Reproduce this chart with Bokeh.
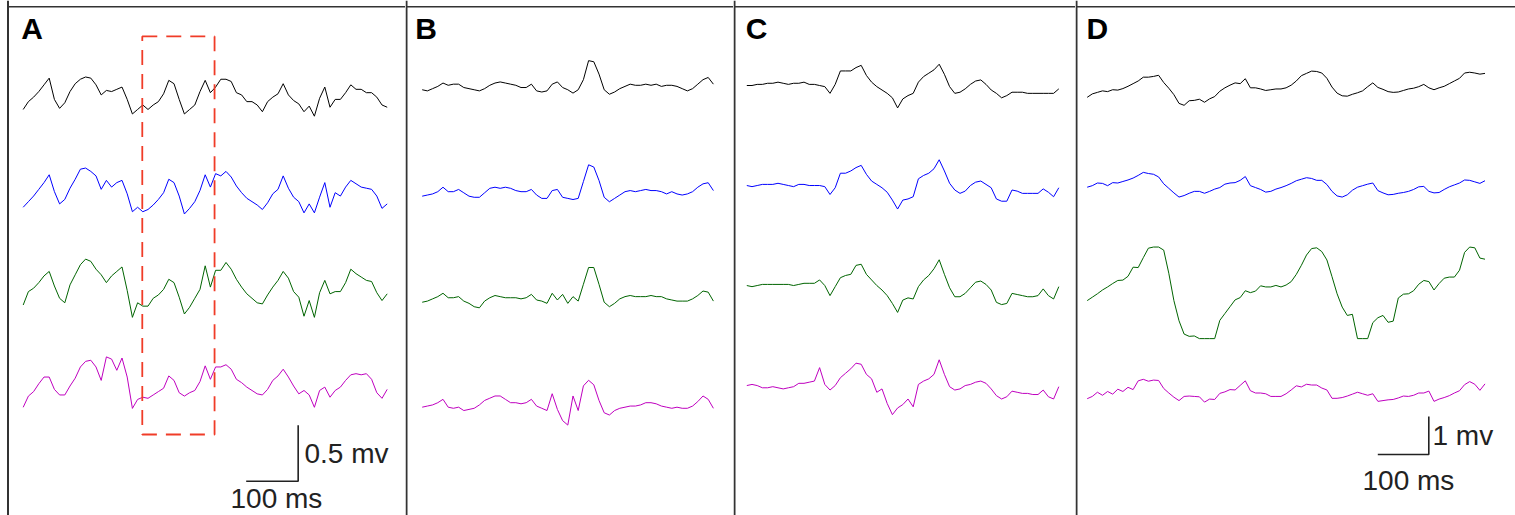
import numpy as np
from bokeh.plotting import figure
from bokeh.layouts import row
from bokeh.models import Range1d, Span
from bokeh.core.properties import value
from bokeh.embed import file_html
from bokeh.resources import INLINE

# ---------------- data (mV, one sample every 10 ms) ----------------
DT_MS = 10
CHANNEL_COLORS = ["#000000", "#0000ff", "#006400", "#bf00bf"]
PANEL_LABELS = ["A", "B", "C", "D"]

A_BLACK = [-0.08, -0.01, 0.03, 0.08, 0.14, 0.20, 0.01, -0.07, -0.02, 0.08,
           0.15, 0.19, 0.21, 0.20, 0.14, 0.05, 0.09, 0.08, 0.10, 0.12,
           0.01, -0.12, -0.08, -0.04, -0.08, -0.04, -0.01, 0.06, 0.18, 0.15,
           0.01, -0.12, -0.08, -0.04, 0.08, 0.18, 0.07, 0.12, 0.19, 0.19,
           0.17, 0.07, 0.05, -0.01, -0.01, -0.04, -0.10, -0.01, 0.03, 0.06,
           0.15, 0.05, 0.00, -0.03, -0.10, -0.05, -0.14, 0.02, 0.12, -0.06,
           0.01, 0.01, 0.07, 0.14, 0.10, 0.10, 0.07, 0.07, 0.03, -0.04,
           -0.06]
A_BLUE = [-0.06, -0.01, 0.04, 0.10, 0.16, 0.23, 0.08, -0.03, 0.01, 0.11,
          0.19, 0.28, 0.29, 0.26, 0.22, 0.10, 0.18, 0.12, 0.16, 0.18,
          0.06, -0.10, -0.06, -0.10, -0.08, -0.04, 0.01, 0.07, 0.19, 0.16,
          0.04, -0.12, -0.07, -0.01, 0.09, 0.23, 0.12, 0.24, 0.22, 0.26,
          0.21, 0.13, 0.07, 0.02, -0.01, -0.04, -0.08, -0.02, 0.06, 0.10,
          0.22, 0.11, 0.03, -0.01, -0.11, -0.03, -0.11, 0.03, 0.16, -0.06,
          0.07, 0.04, 0.12, 0.18, 0.15, 0.12, 0.11, 0.10, 0.04, -0.07,
          -0.03]
A_GREEN = [-0.10, 0.02, 0.05, 0.10, 0.16, 0.20, 0.07, -0.04, -0.08, 0.08,
           0.17, 0.26, 0.31, 0.29, 0.22, 0.17, 0.10, 0.16, 0.20, 0.24,
           0.03, -0.21, -0.08, -0.11, -0.11, -0.04, -0.01, 0.04, 0.13, 0.10,
           -0.03, -0.18, -0.12, -0.04, 0.04, 0.25, 0.06, 0.21, 0.21, 0.28,
           0.22, 0.13, 0.06, 0.00, -0.04, -0.08, -0.09, -0.01, 0.06, 0.12,
           0.20, 0.14, 0.02, -0.03, -0.20, -0.06, -0.21, 0.01, 0.12, 0.00,
           0.02, 0.02, 0.10, 0.22, 0.18, 0.15, 0.12, 0.11, 0.01, -0.06,
           0.00]
A_MAGENTA = [-0.15, -0.05, -0.01, 0.06, 0.12, 0.12, 0.01, -0.04, -0.04, 0.04,
             0.11, 0.21, 0.26, 0.27, 0.21, 0.09, 0.30, 0.28, 0.18, 0.29,
             0.12, -0.16, -0.08, -0.06, -0.07, -0.04, -0.01, 0.02, 0.13, 0.09,
             -0.02, -0.05, -0.02, 0.00, 0.08, 0.22, 0.10, 0.21, 0.21, 0.23,
             0.19, 0.10, 0.07, 0.03, 0.00, -0.03, -0.04, 0.01, 0.09, 0.13,
             0.19, 0.12, 0.04, -0.03, 0.00, -0.04, -0.15, 0.00, 0.03, -0.06,
             0.00, 0.03, 0.09, 0.14, 0.15, 0.14, 0.15, 0.10, -0.02, -0.07,
             0.01]

B_BLACK = [0.00, -0.01, 0.01, 0.03, 0.06, 0.04, 0.05, 0.05, 0.02, 0.01,
           0.00, -0.01, 0.01, 0.04, 0.06, 0.07, 0.06, 0.05, 0.04, 0.02,
           0.02, 0.05, -0.01, -0.02, -0.01, 0.05, 0.07, 0.02, 0.00, -0.03,
           0.00, 0.09, 0.26, 0.25, 0.14, 0.00, -0.04, -0.02, 0.01, 0.03,
           0.05, 0.04, 0.04, 0.05, 0.04, 0.05, 0.03, 0.04, 0.04, 0.03,
           0.01, -0.01, 0.01, 0.05, 0.09, 0.11, 0.05]
B_BLUE = [0.00, 0.01, 0.02, 0.04, 0.08, 0.04, 0.04, 0.06, 0.03, 0.00,
          -0.01, -0.01, 0.03, 0.07, 0.08, 0.07, 0.08, 0.07, 0.05, 0.04,
          0.04, 0.06, 0.01, -0.02, -0.02, 0.05, 0.06, -0.01, -0.02, -0.03,
          -0.02, 0.13, 0.28, 0.26, 0.14, -0.01, -0.05, -0.02, 0.01, 0.04,
          0.05, 0.04, 0.05, 0.06, 0.05, 0.05, 0.04, 0.02, 0.04, 0.02,
          0.01, 0.02, 0.04, 0.08, 0.11, 0.12, 0.05]
B_GREEN = [0.00, 0.01, 0.03, 0.05, 0.08, 0.04, 0.04, 0.05, 0.01, -0.01,
           -0.04, -0.05, 0.01, 0.04, 0.06, 0.05, 0.04, 0.04, 0.04, 0.03,
           0.04, 0.07, 0.02, 0.01, -0.01, 0.08, 0.02, 0.07, -0.01, 0.05,
           0.01, 0.16, 0.31, 0.31, 0.16, 0.00, -0.04, -0.01, 0.03, 0.05,
           0.06, 0.05, 0.05, 0.05, 0.06, 0.05, 0.05, 0.03, 0.02, 0.01,
           0.01, 0.01, 0.03, 0.06, 0.10, 0.09, 0.01]
B_MAGENTA = [0.00, 0.01, 0.02, 0.04, 0.07, 0.00, -0.01, 0.00, -0.03, -0.02,
             -0.01, 0.02, 0.06, 0.08, 0.10, 0.10, 0.07, 0.04, 0.04, 0.03,
             0.04, 0.07, 0.01, -0.01, -0.03, 0.12, -0.02, -0.12, -0.16, 0.10,
             -0.03, 0.19, 0.24, 0.20, 0.06, -0.05, -0.07, -0.03, -0.01, 0.00,
             0.01, 0.01, 0.02, 0.04, 0.04, 0.03, 0.01, 0.00, -0.01, 0.00,
             -0.01, -0.01, 0.01, 0.05, 0.10, 0.07, -0.01]

C_BLACK = [0.00, 0.00, 0.01, 0.01, 0.02, 0.02, 0.03, 0.02, 0.01, 0.02,
           0.02, 0.03, 0.01, 0.01, 0.00, -0.01, -0.07, 0.01, 0.13, 0.13,
           0.13, 0.16, 0.18, 0.09, 0.03, -0.01, -0.04, -0.07, -0.11, -0.20,
           -0.12, -0.09, -0.07, 0.03, 0.08, 0.11, 0.14, 0.19, 0.10, -0.01,
           -0.07, -0.06, -0.03, 0.01, 0.04, 0.05, 0.01, -0.04, -0.07, -0.11,
           -0.09, -0.06, -0.06, -0.06, -0.07, -0.07, -0.07, -0.07, -0.07, -0.07,
           -0.03]
C_BLUE = [0.00, -0.01, 0.00, 0.01, 0.01, 0.01, 0.02, 0.01, 0.00, -0.01,
          0.01, 0.01, 0.00, 0.00, 0.00, -0.01, -0.08, -0.02, 0.11, 0.11,
          0.13, 0.16, 0.18, 0.10, 0.04, 0.01, -0.02, -0.06, -0.13, -0.21,
          -0.13, -0.12, -0.10, 0.06, 0.09, 0.11, 0.15, 0.23, 0.13, 0.02,
          -0.04, -0.07, -0.05, 0.00, 0.03, 0.04, 0.01, -0.02, -0.12, -0.14,
          -0.14, -0.04, -0.05, -0.07, -0.07, -0.07, -0.07, -0.03, -0.06, -0.10,
          -0.02]
C_GREEN = [0.00, -0.01, 0.00, 0.01, 0.01, 0.01, 0.01, 0.01, 0.01, 0.00,
           0.01, 0.02, 0.02, 0.02, 0.05, 0.00, -0.09, -0.01, 0.07, 0.09,
           0.10, 0.18, 0.19, 0.10, 0.05, 0.00, -0.04, -0.09, -0.16, -0.24,
           -0.13, -0.11, -0.12, -0.01, 0.05, 0.09, 0.15, 0.23, 0.10, -0.02,
           -0.10, -0.10, -0.07, -0.02, 0.03, 0.04, 0.01, -0.04, -0.15, -0.17,
           -0.16, -0.07, -0.08, -0.09, -0.10, -0.10, -0.09, -0.03, -0.09, -0.12,
           -0.01]
C_MAGENTA = [0.00, 0.01, 0.00, -0.02, -0.02, -0.01, -0.02, -0.03, -0.02, -0.01,
             0.02, 0.02, 0.03, 0.04, 0.16, 0.01, -0.04, 0.00, 0.07, 0.11,
             0.15, 0.20, 0.19, 0.10, 0.06, -0.06, -0.03, -0.16, -0.26, -0.20,
             -0.17, -0.12, -0.19, 0.01, 0.04, 0.06, 0.10, 0.23, 0.10, -0.01,
             -0.04, -0.03, 0.00, 0.01, 0.03, 0.04, 0.02, -0.03, -0.09, -0.12,
             -0.10, -0.05, -0.06, -0.07, -0.07, -0.08, -0.08, -0.04, -0.10, -0.12,
             -0.01]

D_BLACK = [-0.18, -0.09, -0.05, -0.01, -0.03, 0.02, 0.01, 0.05, 0.11, 0.18,
           0.25, 0.35, 0.35, 0.37, 0.40, 0.21, 0.06, -0.11, -0.34, -0.39,
           -0.27, -0.26, -0.23, -0.31, -0.22, -0.16, -0.02, 0.07, 0.14, 0.20,
           0.18, 0.31, 0.07, 0.07, 0.04, 0.00, 0.02, 0.04, 0.04, 0.07,
           0.14, 0.25, 0.39, 0.45, 0.51, 0.50, 0.46, 0.32, 0.09, -0.07,
           -0.14, -0.15, -0.10, -0.06, -0.01, 0.10, 0.20, 0.08, 0.03, -0.03,
           -0.05, -0.04, 0.00, 0.04, 0.06, 0.10, 0.16, 0.07, 0.02, 0.07,
           0.11, 0.18, 0.25, 0.32, 0.46, 0.48, 0.46, 0.43, 0.45]
D_BLUE = [0.00, 0.04, 0.11, 0.10, 0.04, 0.12, 0.11, 0.15, 0.19, 0.24,
          0.31, 0.39, 0.36, 0.34, 0.27, 0.09, -0.03, -0.15, -0.26, -0.22,
          -0.16, -0.11, -0.11, -0.16, -0.11, -0.05, -0.01, 0.08, 0.11, 0.12,
          0.18, 0.28, 0.04, -0.01, -0.06, -0.13, -0.11, -0.05, -0.01, 0.04,
          0.10, 0.17, 0.21, 0.25, 0.23, 0.18, 0.18, 0.07, -0.11, -0.23,
          -0.26, -0.20, -0.08, 0.00, 0.04, 0.08, 0.11, -0.09, -0.15, -0.20,
          -0.19, -0.16, -0.14, -0.11, -0.06, 0.01, 0.02, -0.11, -0.15, -0.14,
          -0.06, 0.01, 0.06, 0.11, 0.19, 0.18, 0.14, 0.10, 0.17]
D_GREEN = [-0.18, -0.09, 0.00, 0.10, 0.18, 0.27, 0.35, 0.36, 0.46, 0.70,
           0.69, 0.95, 1.20, 1.23, 1.23, 1.15, 0.54, -0.18, -0.71, -1.06,
           -1.12, -1.11, -1.18, -1.18, -1.18, -1.18, -0.70, -0.52, -0.34, -0.16,
           -0.10, 0.08, 0.03, 0.07, 0.21, 0.18, 0.18, 0.22, 0.18, 0.23,
           0.32, 0.51, 0.75, 1.02, 1.19, 1.21, 1.11, 0.89, 0.45, 0.00,
           -0.35, -0.57, -0.54, -1.18, -1.18, -1.18, -0.76, -0.63, -0.57, -0.75,
           -0.72, -0.11, -0.01, 0.00, 0.08, 0.25, 0.35, 0.32, 0.10, 0.27,
           0.41, 0.44, 0.44, 0.62, 1.09, 1.23, 1.21, 0.94, 0.91]
D_MAGENTA = [-0.04, 0.02, 0.13, 0.05, 0.15, 0.08, 0.21, 0.15, 0.26, 0.20,
             0.43, 0.47, 0.42, 0.45, 0.44, 0.23, 0.11, 0.00, -0.09, 0.02,
             0.03, 0.02, 0.01, -0.13, -0.05, -0.06, 0.10, 0.14, 0.20, 0.19,
             0.31, 0.43, 0.17, 0.11, 0.11, 0.09, 0.02, 0.02, 0.02, 0.09,
             0.19, 0.30, 0.27, 0.34, 0.32, 0.32, 0.24, 0.19, -0.03, -0.03,
             -0.01, 0.03, 0.08, 0.13, 0.09, 0.05, 0.09, -0.11, -0.09, -0.07,
             -0.06, -0.02, 0.03, 0.02, 0.05, 0.11, 0.11, 0.16, -0.11, -0.05,
             -0.01, 0.04, 0.11, 0.17, 0.33, 0.41, 0.34, 0.18, 0.35]

# scale bars (ms, mV) and highlighted window in panel A (ms)
SCALE_A = (100, 0.5)
SCALE_D = (100, 1)
HIGHLIGHT_MS = (229, 368)

# ---------------- layout constants ----------------
H = 515
PANELS = [
    dict(label="A", width=405, px_ms=0.52, px_mv=112.0, lead=22.7, edge=7.5,
         traces=[A_BLACK, A_BLUE, A_GREEN, A_MAGENTA],
         base=[-0.893, -1.786, -2.619, -3.482], label_x=-3.8, label_y=-0.250),
    dict(label="B", width=328, px_ms=0.52, px_mv=112.0, lead=16.7, edge=1.0,
         traces=[B_BLACK, B_BLUE, B_GREEN, B_MAGENTA],
         base=[-0.797, -1.747, -2.694, -3.631], label_x=-13.5, label_y=-0.250),
    dict(label="C", width=342, px_ms=0.52, px_mv=112.0, lead=13.3, edge=1.0,
         traces=[C_BLACK, C_BLUE, C_GREEN, C_MAGENTA],
         base=[-0.759, -1.652, -2.545, -3.438], label_x=-2.1, label_y=-0.250),
    dict(label="D", width=440, px_ms=0.51, px_mv=38.0, lead=11.7, edge=1.0,
         traces=[D_BLACK, D_BLUE, D_GREEN, D_MAGENTA],
         base=[-2.368, -4.913, -7.718, -10.439], label_x=-1.4, label_y=-0.737),
]
FONT = value("Liberation Sans")
INK = "#222222"
EDGE = "#333333"
TOP_EDGE_PX = 6.3

figs = []
for cfg in PANELS:
    x0 = -cfg["lead"] / cfg["px_ms"]
    x1 = x0 + cfg["width"] / cfg["px_ms"]
    y1 = 0.0
    y0 = -H / cfg["px_mv"]
    p = figure(width=cfg["width"], height=H, x_range=Range1d(x0, x1), y_range=Range1d(y0, y1),
               output_backend="svg", toolbar_location=None,
               x_axis_location=None, y_axis_location=None, min_border=0,
               outline_line_color=None, background_fill_color="white",
               border_fill_color="white")
    p.grid.visible = False

    # borders: top line and left separator
    left = x0 + cfg["edge"] / cfg["px_ms"]
    top = y1 - TOP_EDGE_PX / cfg["px_mv"]
    p.segment(x0=[left], y0=[top], x1=[x1], y1=[top], line_color=EDGE, line_width=1.6)
    p.add_layout(Span(location=left, dimension="height", line_color=EDGE, line_width=2))

    for vals, b, col in zip(cfg["traces"], cfg["base"], CHANNEL_COLORS):
        v = np.asarray(vals)
        t = np.arange(len(v)) * DT_MS
        p.line(t, v + b, line_color=col, line_width=1.0)

    p.text(x=[cfg["label_x"]], y=[cfg["label_y"]], text=[cfg["label"]],
           text_font=FONT, text_font_size="30px", text_font_style="bold",
           text_color="#000000", text_baseline="alphabetic", text_align="left")
    figs.append(p)

# panel A: highlighted window + scale bar
pa = figs[0]
pa.quad(left=[HIGHLIGHT_MS[0]], right=[HIGHLIGHT_MS[1]], top=[-0.321], bottom=[-3.875],
        fill_color=None, line_color="#f03c28", line_width=1.8, line_dash="15 9")
ta, va = SCALE_A
bar_t, bar_v = 528.8, -4.292
pa.line([bar_t - ta, bar_t, bar_t], [bar_v, bar_v, bar_v + va], line_color=INK, line_width=1.6)
pa.text(x=[541, 398.7], y=[-4.048, -4.444], text=[f"{va} mv", f"{ta} ms"],
        text_font=FONT, text_font_size="28px", text_color=INK,
        text_baseline="alphabetic", text_align="left")

# panel D: scale bar
pd_ = figs[3]
td, vd = SCALE_D
bar_t, bar_v = 669.8, -11.947
pd_.line([bar_t - td, bar_t, bar_t], [bar_v, bar_v, bar_v + vd], line_color=INK, line_width=1.6)
pd_.text(x=[677, 539.8], y=[-11.448, -12.632], text=[f"{vd} mv", f"{td} ms"],
         text_font=FONT, text_font_size="28px", text_color=INK,
         text_baseline="alphabetic", text_align="left")

layout = row(*figs, spacing=0)
open("out.html", "w").write(file_html(layout, INLINE))
